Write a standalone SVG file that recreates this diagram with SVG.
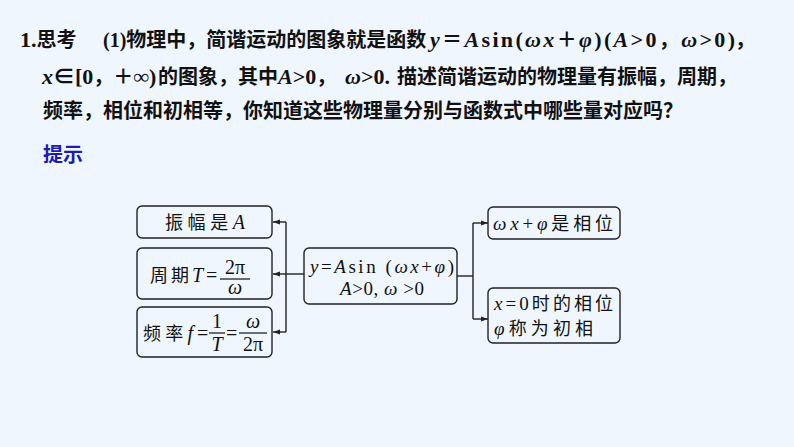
<svg xmlns="http://www.w3.org/2000/svg" width="794" height="447" viewBox="0 0 794 447">
<defs>
<marker id="ah" viewBox="0 0 10 10" refX="10" refY="5" markerWidth="7" markerHeight="7" orient="auto" markerUnits="userSpaceOnUse">
<path d="M0,1.5 L10,5 L0,8.5 Z" fill="#222"/>
</marker>
<style>
.q{font-family:"Liberation Serif","Noto Sans CJK SC",serif;font-size:20px;font-weight:bold;fill:#111}
.L{font-size:22px}
.hint{font-family:"Noto Sans CJK SC",sans-serif;font-size:20px;font-weight:bold;fill:#1c1cb0}
.box{fill:#f0f6fd;stroke:#222;stroke-width:1.4}
.t{font-family:"Liberation Serif","Noto Sans CJK SC",serif;font-size:19px;fill:#111}
.c{font-size:18px}
.f{font-family:"Liberation Serif",serif;font-size:20px;fill:#111}
.i{font-style:italic}
.ln{fill:none;stroke:#222;stroke-width:1.4}
.bar{stroke:#111;stroke-width:1.2}
</style>
</defs>
<rect width="794" height="447" fill="#f0f6fd"/>
<g id="question">
<text class="q" y="47"><tspan x="20" class="L">1.</tspan>思考<tspan x="103">(1)</tspan>物理中，简谐运动的图象就是函数</text>
<text class="q L" x="430" y="47" textLength="305" lengthAdjust="spacing"><tspan class="i">y</tspan><tspan font-size="20">＝</tspan><tspan class="i">A</tspan>sin(<tspan class="i">ωx</tspan><tspan font-size="20">＋</tspan><tspan class="i">φ</tspan>)(<tspan class="i">A</tspan>&gt;0<tspan font-size="20">，</tspan><tspan class="i">ω</tspan>&gt;0)</text>
<text class="q" x="735" y="47">，</text>
<text class="q" y="84"><tspan x="42" class="L i">x</tspan><tspan class="L">∈[0</tspan>，＋<tspan class="L">∞)</tspan><tspan x="158">的图象，其中</tspan><tspan x="278" class="L i">A</tspan><tspan class="L">&gt;0</tspan>，<tspan x="345" class="L i">ω</tspan><tspan class="L">&gt;0.</tspan><tspan x="397">描述简谐运动的物理量有振幅，周期，</tspan></text>
<text class="q" x="43" y="118">频率，相位和初相等，你知道这些物理量分别与函数式中哪些量对应吗？</text>
<text class="hint" x="43" y="162">提示</text>
</g>
<g id="connectors">
<path class="ln" d="M304,274 H286"/>
<path class="ln" d="M286,222 V332"/>
<path class="ln" d="M286,222 H273" marker-end="url(#ah)"/>
<path class="ln" d="M286,274 H273" marker-end="url(#ah)"/>
<path class="ln" d="M286,332 H273" marker-end="url(#ah)"/>
<path class="ln" d="M457,276 H473"/>
<path class="ln" d="M473,223 V319"/>
<path class="ln" d="M473,223 H488" marker-end="url(#ah)"/>
<path class="ln" d="M473,319 H488" marker-end="url(#ah)"/>
</g>
<g id="center">
<rect class="box" x="304" y="248" width="153" height="56" rx="5"/>
<text class="t" x="310" y="273" font-size="20" textLength="144" lengthAdjust="spacing"><tspan class="i">y</tspan>=<tspan class="i">A</tspan>sin (<tspan class="i">ωx</tspan>+<tspan class="i">φ</tspan>)</text>
<text class="t" x="340" y="295" font-size="20" textLength="84" lengthAdjust="spacing"><tspan class="i">A</tspan>&gt;0, <tspan class="i">ω</tspan> &gt;0</text>
</g>
<g id="amplitude">
<rect class="box" x="137" y="206" width="135" height="32" rx="5"/>
<text class="t" x="165" y="229" textLength="80" lengthAdjust="spacing"><tspan class="c">振幅是</tspan><tspan class="i" font-size="20">A</tspan></text>
</g>
<g id="period">
<rect class="box" x="137" y="248" width="135" height="51" rx="5"/>
<text class="t" x="150" y="282" textLength="53" lengthAdjust="spacing"><tspan class="c">周期</tspan><tspan class="i" font-size="20">T</tspan></text>
<text class="f" x="206" y="282">=</text>
<text class="f" x="235" y="274" text-anchor="middle">2π</text>
<line class="bar" x1="220" y1="279" x2="250" y2="279"/>
<text class="f i" x="235" y="294" text-anchor="middle">ω</text>
</g>
<g id="frequency">
<rect class="box" x="137" y="307" width="135" height="50" rx="5"/>
<text class="t" x="143" y="340" textLength="50" lengthAdjust="spacing"><tspan class="c">频率</tspan><tspan class="i" font-size="20">f</tspan></text>
<text class="f" x="197" y="340">=</text>
<text class="f" x="217" y="328" text-anchor="middle">1</text>
<line class="bar" x1="209" y1="333" x2="225" y2="333"/>
<text class="f i" x="217" y="351" text-anchor="middle">T</text>
<text class="f" x="226" y="340">=</text>
<text class="f i" x="253" y="328" text-anchor="middle">ω</text>
<line class="bar" x1="239" y1="333" x2="267" y2="333"/>
<text class="f" x="253" y="351" text-anchor="middle">2π</text>
</g>
<g id="phase">
<rect class="box" x="488" y="207" width="132" height="32" rx="5"/>
<text class="t" x="493" y="230" textLength="120" lengthAdjust="spacing"><tspan class="i">ωx</tspan>+<tspan class="i">φ</tspan><tspan class="c">是相位</tspan></text>
</g>
<g id="initial-phase">
<rect class="box" x="488" y="288" width="132" height="55" rx="5"/>
<text class="t" x="494" y="310" textLength="119" lengthAdjust="spacing"><tspan class="i">x</tspan>=0<tspan class="c">时的相位</tspan></text>
<text class="t" x="494" y="335" textLength="99" lengthAdjust="spacing"><tspan class="i">φ</tspan><tspan class="c">称为初相</tspan></text>
</g>
</svg>
